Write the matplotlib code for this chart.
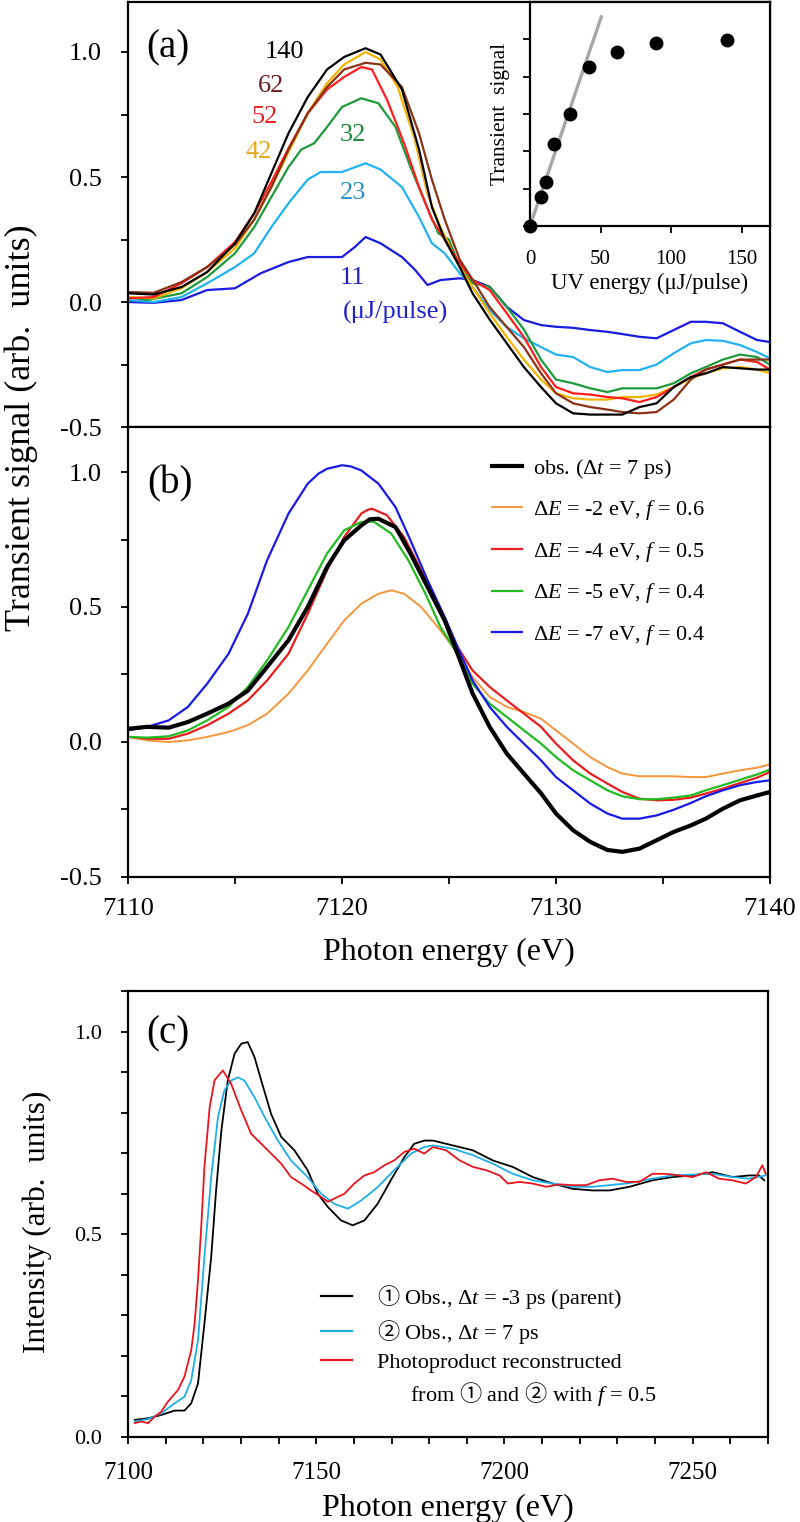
import matplotlib
matplotlib.use("Agg")
import matplotlib.pyplot as plt
from matplotlib.ticker import MultipleLocator
from matplotlib.lines import Line2D

plt.rcParams['font.family'] = ['Liberation Serif', 'Noto Sans CJK JP', 'DejaVu Sans']
plt.rcParams['mathtext.fontset'] = 'custom'
plt.rcParams['mathtext.rm'] = 'Liberation Serif'
plt.rcParams['mathtext.it'] = 'Liberation Serif:italic'
plt.rcParams['mathtext.sf'] = 'Noto Sans CJK JP'
plt.rcParams['axes.unicode_minus'] = False
plt.rcParams['lines.solid_joinstyle'] = 'round'

# ---------------------------------------------------------------------------
# (a) transient spectra vs. UV pulse energy
# ---------------------------------------------------------------------------
xa_right = [7125.5, 7126.1, 7126.9, 7127.7, 7128.5, 7129.3, 7130.0, 7130.8, 7131.6, 7132.4,
            7133.1, 7133.9, 7134.7, 7135.5, 7136.3, 7137.0, 7137.8, 7138.6, 7139.4, 7140.0]

xa_140 = [7110.0, 7111.2, 7112.5, 7113.7, 7115.0, 7115.9, 7116.7, 7117.5, 7118.4, 7119.3,
          7120.1, 7121.1, 7121.8, 7122.8, 7123.6, 7124.2, 7124.8]
ya_140 = [0.035, 0.03, 0.06, 0.12, 0.235, 0.355, 0.515, 0.675, 0.82, 0.93,
          0.98, 1.015, 0.99, 0.85, 0.61, 0.38, 0.25,
          0.14, 0.035, -0.07, -0.165, -0.26, -0.34, -0.405, -0.445, -0.45, -0.45,
          -0.45, -0.42, -0.405, -0.34, -0.30, -0.285, -0.26, -0.265, -0.27, -0.27]

xa_62 = xa_140
ya_62 = [0.04, 0.037, 0.08, 0.14, 0.23, 0.33, 0.46, 0.61, 0.755, 0.86,
         0.93, 0.957, 0.95, 0.86, 0.675, 0.49, 0.33,
         0.17, 0.09, -0.02, -0.10, -0.18, -0.285, -0.365, -0.405, -0.42, -0.43,
         -0.44, -0.445, -0.44, -0.39, -0.31, -0.27, -0.25, -0.23, -0.23, -0.23]

xa_52 = [7110.0, 7111.2, 7112.5, 7113.7, 7115.0, 7115.9, 7116.7, 7117.5, 7118.4, 7119.3,
         7120.1, 7120.9, 7121.4, 7122.1, 7122.9, 7123.6, 7124.2, 7124.8]
ya_52 = [0.015, 0.02, 0.075, 0.14, 0.24, 0.355, 0.48, 0.615, 0.755, 0.85,
         0.90, 0.94, 0.93, 0.81, 0.635, 0.46, 0.33, 0.25,
         0.155, 0.088, 0.048, -0.045, -0.14, -0.26, -0.34, -0.365, -0.37, -0.38,
         -0.385, -0.40, -0.38, -0.34, -0.30, -0.27, -0.25, -0.23, -0.24, -0.27]

xa_42 = [7110.0, 7111.2, 7112.5, 7113.7, 7115.0, 7115.9, 7116.7, 7117.5, 7118.4, 7119.3,
         7120.1, 7121.1, 7121.8, 7122.6, 7123.4, 7124.0, 7124.6]
ya_42 = [0.02, 0.015, 0.055, 0.12, 0.215, 0.33, 0.46, 0.60, 0.755, 0.875,
         0.95, 1.0, 0.97, 0.86, 0.65, 0.43, 0.30,
         0.14, 0.06, -0.045, -0.14, -0.23, -0.31, -0.365, -0.385, -0.39, -0.39,
         -0.38, -0.38, -0.37, -0.34, -0.305, -0.285, -0.265, -0.26, -0.27, -0.285]

xa_32 = [7110.0, 7110.9, 7112.5, 7113.7, 7115.0, 7115.9, 7116.7, 7117.5, 7118.1, 7118.7,
         7119.3, 7120.0, 7120.9, 7121.7, 7122.5, 7123.2, 7123.9, 7124.5, 7125.0]
ya_32 = [0.02, 0.008, 0.035, 0.10, 0.195, 0.30, 0.42, 0.54, 0.61, 0.635,
         0.70, 0.78, 0.815, 0.795, 0.70, 0.54, 0.395, 0.275, 0.25,
         0.14, 0.075, 0.061, -0.019, -0.11, -0.23, -0.31, -0.325, -0.345, -0.36,
         -0.345, -0.345, -0.345, -0.325, -0.285, -0.26, -0.23, -0.21, -0.22, -0.25]

xa_23 = [7110.0, 7111.2, 7112.5, 7113.7, 7115.0, 7115.9, 7116.7, 7117.5, 7118.4, 7119.0,
         7120.0, 7121.1, 7121.8, 7122.8, 7123.6, 7124.2, 7124.8]
ya_23 = [0.008, 0.0, 0.02, 0.075, 0.14, 0.195, 0.30, 0.395, 0.49, 0.52,
         0.52, 0.555, 0.53, 0.46, 0.34, 0.235, 0.195,
         0.115, 0.061, -0.032, -0.10, -0.145, -0.18, -0.21, -0.22, -0.26, -0.28,
         -0.272, -0.272, -0.25, -0.205, -0.165, -0.152, -0.155, -0.172, -0.2, -0.225]

xa_11 = [7110.0, 7111.2, 7112.5, 7113.7, 7115.0, 7116.2, 7117.5, 7118.4, 7119.3, 7120.0,
         7120.6, 7121.1, 7121.8, 7122.8, 7123.4, 7124.0, 7124.6]
ya_11 = [0.0, -0.003, 0.008, 0.048, 0.055, 0.115, 0.16, 0.18, 0.18, 0.18,
         0.22, 0.26, 0.235, 0.18, 0.13, 0.068, 0.088,
         0.095, 0.088, 0.061, -0.019, -0.072, -0.092, -0.099, -0.103, -0.112, -0.119,
         -0.128, -0.139, -0.145, -0.112, -0.079, -0.079, -0.085, -0.119, -0.152, -0.16]

a_labels = ["140", "62", "52", "42", "32", "23", "11"]
a_colors = ["#000000", "#8b3216", "#ff1e1e", "#f5b400", "#1e9a3c", "#22b2f0", "#1a1ae0"]
a_text_colors = ["#000000", "#6e1e1e", "#e81e1e", "#e8a81c", "#1a8a3a", "#2a90c4", "#2222cc"]
a_text_x = [7117.3, 7116.7, 7116.4, 7116.1, 7120.5, 7120.5, 7120.5]
a_text_y = [1.0, 0.864, 0.74, 0.60, 0.668, 0.436, 0.096]

# inset: transient signal vs UV energy
uv_energy = [0, 7.7, 11.2, 16.8, 28, 42, 61.5, 89.5, 139.5]
uv_signal = [0, 0.78, 1.18, 2.2, 3.0, 4.27, 4.67, 4.9, 4.98]
fit_x = [0, 50.5]
fit_y = [0, 5.6]

# ---------------------------------------------------------------------------
# (b) observed vs. simulated difference spectra
# ---------------------------------------------------------------------------
xb_right = [7125.4, 7126.1, 7126.9, 7127.7, 7128.5, 7129.3, 7130.0, 7130.8, 7131.6, 7132.4,
            7133.1, 7133.9, 7134.7, 7135.5, 7136.3, 7137.0, 7137.8, 7138.6, 7139.4, 7140.0]

xb_obs = [7110.0, 7110.9, 7111.9, 7112.8, 7113.7, 7114.7, 7115.6, 7116.5, 7117.5, 7118.4,
          7119.3, 7120.1, 7120.9, 7121.3, 7121.7, 7122.5, 7123.2, 7124.0, 7124.8]
yb_obs = [0.049, 0.056, 0.053, 0.074, 0.105, 0.142, 0.19, 0.278, 0.377, 0.50,
          0.648, 0.747, 0.802, 0.825, 0.827, 0.796, 0.698, 0.574, 0.45,
          0.327, 0.18, 0.056, -0.043, -0.117, -0.19, -0.265, -0.327, -0.37, -0.40,
          -0.407, -0.395, -0.364, -0.333, -0.309, -0.284, -0.247, -0.216, -0.198, -0.185]

xb_2 = [7110.0, 7110.9, 7111.9, 7112.8, 7113.7, 7114.7, 7115.6, 7116.5, 7117.5, 7118.4,
        7119.3, 7120.1, 7120.9, 7121.7, 7122.3, 7122.9, 7123.7, 7124.6]
yb_2 = [0.019, 0.006, 0.0, 0.006, 0.019, 0.037, 0.062, 0.105, 0.179, 0.265,
        0.364, 0.45, 0.512, 0.549, 0.562, 0.549, 0.50, 0.414,
        0.327, 0.24, 0.167, 0.13, 0.111, 0.086, 0.043, -0.006, -0.056, -0.093,
        -0.117, -0.127, -0.127, -0.127, -0.13, -0.13, -0.117, -0.105, -0.095, -0.083]

xb_4 = [7110.0, 7110.9, 7111.9, 7112.8, 7113.7, 7114.7, 7115.6, 7116.5, 7117.5, 7118.4,
        7119.3, 7120.1, 7120.9, 7121.2, 7121.4, 7122.1, 7122.9, 7123.7, 7124.6]
yb_4 = [0.019, 0.012, 0.012, 0.031, 0.062, 0.105, 0.154, 0.228, 0.327, 0.475,
        0.636, 0.759, 0.846, 0.86, 0.864, 0.84, 0.759, 0.636, 0.488,
        0.352, 0.265, 0.204, 0.154, 0.105, 0.056, -0.006, -0.068, -0.117, -0.154,
        -0.185, -0.21, -0.216, -0.214, -0.206, -0.191, -0.173, -0.152, -0.132, -0.111]

xb_5 = [7110.0, 7110.9, 7111.9, 7112.8, 7113.7, 7114.7, 7115.6, 7116.5, 7117.5, 7118.4,
        7119.3, 7120.1, 7120.9, 7121.2, 7121.5, 7122.3, 7123.1, 7123.9, 7124.6]
yb_5 = [0.019, 0.016, 0.021, 0.043, 0.08, 0.13, 0.204, 0.302, 0.426, 0.562,
        0.698, 0.784, 0.815, 0.817, 0.815, 0.772, 0.673, 0.549, 0.426,
        0.327, 0.216, 0.142, 0.093, 0.043, -0.006, -0.056, -0.105, -0.142, -0.179,
        -0.201, -0.212, -0.212, -0.206, -0.198, -0.179, -0.16, -0.14, -0.12, -0.102]

xb_7 = [7110.0, 7110.9, 7111.9, 7112.8, 7113.7, 7114.7, 7115.6, 7116.5, 7117.5, 7118.4,
        7118.9, 7119.3, 7120.0, 7120.4, 7120.9, 7121.7, 7122.5, 7123.2, 7124.0, 7124.8]
yb_7 = [0.043, 0.056, 0.08, 0.13, 0.216, 0.327, 0.475, 0.673, 0.846, 0.957,
        0.994, 1.012, 1.025, 1.021, 1.006, 0.957, 0.87, 0.747, 0.599, 0.463,
        0.352, 0.228, 0.13, 0.056, -0.006, -0.068, -0.13, -0.179, -0.228, -0.265,
        -0.284, -0.284, -0.272, -0.251, -0.226, -0.201, -0.179, -0.16, -0.148, -0.142]

b_labels = ["obs. (Δ$t$ = 7 ps)",
            "Δ$E$ = -2 eV, $f$ = 0.6",
            "Δ$E$ = -4 eV, $f$ = 0.5",
            "Δ$E$ = -5 eV, $f$ = 0.4",
            "Δ$E$ = -7 eV, $f$ = 0.4"]
b_colors = ["#000000", "#f5963c", "#e81e1e", "#22bb22", "#1a1ae6"]

# ---------------------------------------------------------------------------
# (c) XANES spectra
# ---------------------------------------------------------------------------
xc_parent = [7101.8, 7105.3, 7108.8, 7112.4, 7115.0, 7116.8, 7118.6, 7120.3, 7122.1, 7123.4,
             7124.8, 7126.5, 7128.3, 7130.1, 7131.8, 7133.6, 7135.4, 7138.0, 7140.7, 7144.2,
             7147.7, 7150.4, 7153.1, 7156.6, 7159.7, 7162.8, 7166.3, 7169.8, 7173.4, 7176.0,
             7178.7, 7181.0, 7186.3, 7191.6, 7196.9, 7202.2, 7207.5, 7212.8, 7218.1, 7223.4,
             7227.9, 7233.2, 7239.3, 7244.6, 7250.0, 7255.3, 7260.6, 7265.0, 7267.6, 7269.0]
yc_parent = [0.042, 0.046, 0.054, 0.065, 0.065, 0.083, 0.132, 0.28, 0.444, 0.608,
             0.756, 0.879, 0.945, 0.97, 0.974, 0.937, 0.879, 0.797, 0.74, 0.707,
             0.658, 0.60, 0.567, 0.534, 0.522, 0.534, 0.575, 0.633, 0.69, 0.723,
             0.731, 0.731, 0.719, 0.707, 0.682, 0.666, 0.641, 0.625, 0.612, 0.608,
             0.608, 0.617, 0.633, 0.641, 0.645, 0.653, 0.641, 0.645, 0.645, 0.633]

xc_7ps = [7101.8, 7105.3, 7108.8, 7112.4, 7115.0, 7116.8, 7118.6, 7120.3, 7122.1, 7123.9,
          7125.6, 7127.4, 7129.2, 7130.9, 7133.6, 7136.3, 7139.8, 7143.3, 7147.7, 7151.3,
          7154.8, 7158.4, 7161.9, 7166.3, 7170.7, 7175.2, 7178.7, 7181.0, 7186.3, 7191.6,
          7196.9, 7202.2, 7207.5, 7212.8, 7218.1, 7223.4, 7227.9, 7233.2, 7239.3, 7244.6,
          7250.0, 7255.3, 7260.6, 7265.0, 7269.4]
yc_7ps = [0.038, 0.044, 0.058, 0.083, 0.099, 0.14, 0.239, 0.444, 0.641, 0.789,
          0.855, 0.879, 0.887, 0.879, 0.838, 0.789, 0.731, 0.682, 0.641, 0.60,
          0.575, 0.563, 0.583, 0.616, 0.658, 0.699, 0.715, 0.719, 0.711, 0.695,
          0.674, 0.649, 0.633, 0.625, 0.617, 0.617, 0.621, 0.626, 0.637, 0.645,
          0.647, 0.649, 0.641, 0.637, 0.645]

xc_product = [7101.8, 7103.5, 7105.3, 7107.1, 7108.8, 7110.6, 7113.3, 7115.0, 7116.8, 7117.7,
              7118.6, 7119.5, 7120.3, 7121.7, 7123.0, 7125.2, 7127.4, 7130.1, 7132.7, 7135.4,
              7138.0, 7140.7, 7143.3, 7146.0, 7148.6, 7151.3, 7153.1, 7154.8, 7157.5, 7160.1,
              7162.8, 7165.4, 7168.1, 7170.7, 7173.4, 7176.0, 7178.7, 7181.0, 7184.5, 7188.1,
              7191.6, 7195.1, 7198.7, 7200.9, 7204.0, 7207.5, 7211.1, 7214.6, 7218.1, 7221.7,
              7225.2, 7228.7, 7232.3, 7235.8, 7239.3, 7242.9, 7246.4, 7250.0, 7253.5, 7257.0,
              7260.6, 7264.1, 7266.8, 7268.5, 7269.4]
yc_product = [0.034, 0.038, 0.034, 0.05, 0.062, 0.087, 0.116, 0.149, 0.214, 0.28,
              0.387, 0.526, 0.666, 0.814, 0.88, 0.904, 0.871, 0.805, 0.748, 0.723,
              0.699, 0.674, 0.641, 0.625, 0.608, 0.592, 0.58, 0.588, 0.60, 0.625,
              0.645, 0.653, 0.67, 0.682, 0.703, 0.711, 0.699, 0.715, 0.707, 0.682,
              0.666, 0.658, 0.645, 0.625, 0.629, 0.625, 0.617, 0.623, 0.621, 0.621,
              0.633, 0.637, 0.629, 0.629, 0.649, 0.649, 0.645, 0.641, 0.653, 0.637,
              0.633, 0.625, 0.641, 0.67, 0.649]

c_labels = [r"$\mathsf{①}$ Obs., Δ$t$ = -3 ps (parent)",
            r"$\mathsf{②}$ Obs., Δ$t$ = 7 ps",
            "Photoproduct reconstructed",
            r"      from $\mathsf{①}$ and $\mathsf{②}$ with $f$ = 0.5"]
c_colors = ["#000000", "#1eaee8", "#e8141e"]


def habille(ax, lw=1.6):
    for s in ax.spines.values():
        s.set_linewidth(lw)
    ax.tick_params(which='both', direction='out', length=5, width=1.3)


fig = plt.figure(figsize=(8, 15.22), dpi=100)

# ------------------------------- (a) ---------------------------------------
ax_a = fig.add_axes([0.16, 0.7194, 0.8025, 0.2793])
series_a = [(xa_140, ya_140), (xa_62, ya_62), (xa_52, ya_52), (xa_42, ya_42),
            (xa_32, ya_32), (xa_23, ya_23), (xa_11, ya_11)]
for i in [6, 5, 4, 3, 2, 1, 0]:
    xs, ys = series_a[i]
    ax_a.plot(xs + xa_right, ys, color=a_colors[i], lw=1.6)
for i in range(len(a_labels)):
    ax_a.text(a_text_x[i], a_text_y[i], a_labels[i], color=a_text_colors[i],
              fontsize=19, ha='center', va='center')
ax_a.text(7122.5, -0.04, "(μJ/pulse)", color=a_text_colors[6], fontsize=19,
          ha='center', va='center')
ax_a.text(0.062, 0.892, "(a)", transform=ax_a.transAxes, fontsize=28,
          ha='center', va='center')
ax_a.set_xlim(7110, 7140)
ax_a.set_ylim(-0.5, 1.2)
ax_a.xaxis.set_major_locator(MultipleLocator(10))
ax_a.xaxis.set_minor_locator(MultipleLocator(5))
ax_a.yaxis.set_major_locator(MultipleLocator(0.5))
ax_a.yaxis.set_minor_locator(MultipleLocator(0.25))
ax_a.yaxis.set_major_formatter(plt.FormatStrFormatter('%.1f'))
habille(ax_a)
ax_a.tick_params(axis='x', labelbottom=False)
ax_a.tick_params(axis='y', labelsize=19, pad=14)

# inset
ax_in = fig.add_axes([0.6625, 0.8515, 0.30, 0.1472])
ax_in.plot(fit_x, fit_y, color="#a6a6a6", lw=2.4)
ax_in.plot(uv_energy, uv_signal, 'o', color='black', ms=9, clip_on=False, zorder=3)
ax_in.set_xlim(0, 170)
ax_in.set_ylim(0, 6)
ax_in.xaxis.set_major_locator(MultipleLocator(50))
ax_in.yaxis.set_major_locator(MultipleLocator(1))
ax_in.set_yticklabels([])
habille(ax_in)
ax_in.tick_params(axis='x', labelsize=15, pad=12)
ax_in.set_xlabel("UV energy (μJ/pulse)", fontsize=16.5, labelpad=3)
ax_in.set_ylabel("Transient  signal", fontsize=15.5, labelpad=6)

# ------------------------------- (b) ---------------------------------------
ax_b = fig.add_axes([0.16, 0.4238, 0.8025, 0.2957])
series_b = [(xb_obs, yb_obs), (xb_2, yb_2), (xb_4, yb_4), (xb_5, yb_5), (xb_7, yb_7)]
b_lw = [3.0, 1.4, 1.6, 1.6, 1.6]
b_lines = []
for i in range(len(series_b)):
    xs, ys = series_b[i]
    ln, = ax_b.plot(xs + xb_right, ys, color=b_colors[i], lw=b_lw[i],
                    zorder=3 if i == 0 else 2)
    b_lines.append(ln)
ax_b.legend(b_lines, b_labels, loc='upper left', bbox_to_anchor=(0.567, 0.934),
            frameon=False, fontsize=16, handlelength=1.35, handletextpad=0.5,
            labelspacing=0.79, borderpad=0, borderaxespad=0)
ax_b.text(0.066, 0.873, "(b)", transform=ax_b.transAxes, fontsize=28,
          ha='center', va='center')
ax_b.set_xlim(7110, 7140)
ax_b.set_ylim(-0.5, 1.167)
ax_b.xaxis.set_major_locator(MultipleLocator(10))
ax_b.xaxis.set_minor_locator(MultipleLocator(5))
ax_b.yaxis.set_major_locator(MultipleLocator(0.5))
ax_b.yaxis.set_minor_locator(MultipleLocator(0.25))
ax_b.yaxis.set_major_formatter(plt.FormatStrFormatter('%.1f'))
habille(ax_b)
ax_b.tick_params(axis='x', labelsize=19, pad=10)
ax_b.tick_params(axis='y', labelsize=19, pad=14)
ax_b.set_xlabel("Photon energy (eV)", fontsize=23, labelpad=13)

fig.text(0.027, 0.719, "Transient signal (arb.  units)", rotation=90,
         fontsize=26, ha='center', va='center')

# ------------------------------- (c) ---------------------------------------
ax_c = fig.add_axes([0.16, 0.0559, 0.80, 0.2930])
ax_c.plot(xc_parent, yc_parent, color=c_colors[0], lw=1.3)
ax_c.plot(xc_7ps, yc_7ps, color=c_colors[1], lw=1.3)
ax_c.plot(xc_product, yc_product, color=c_colors[2], lw=1.3)
c_handles = [Line2D([], [], color=c_colors[0], lw=1.6),
             Line2D([], [], color=c_colors[1], lw=1.6),
             Line2D([], [], color=c_colors[2], lw=1.6),
             Line2D([], [], color='none')]
ax_c.legend(c_handles, c_labels, loc='upper left', bbox_to_anchor=(0.302, 0.345),
            frameon=False, fontsize=16, handlelength=1.4, handletextpad=1.1,
            labelspacing=0.3, borderpad=0, borderaxespad=0)
ax_c.text(0.0625, 0.904, "(c)", transform=ax_c.transAxes, fontsize=28,
          ha='center', va='center')
ax_c.set_xlim(7100, 7270)
ax_c.set_ylim(0, 1.1)
ax_c.xaxis.set_major_locator(MultipleLocator(50))
ax_c.xaxis.set_minor_locator(MultipleLocator(10))
ax_c.yaxis.set_major_locator(MultipleLocator(0.5))
ax_c.yaxis.set_minor_locator(MultipleLocator(0.1))
ax_c.yaxis.set_major_formatter(plt.FormatStrFormatter('%.1f'))
habille(ax_c)
ax_c.tick_params(axis='x', labelsize=18, pad=13)
ax_c.tick_params(axis='y', labelsize=16, pad=14)
ax_c.set_xlabel("Photon energy (eV)", fontsize=23, labelpad=7)
fig.text(0.046, 0.197, "Intensity (arb.  units)", rotation=90,
         fontsize=22.5, ha='center', va='center')

fig.savefig("out.png", dpi=100)
